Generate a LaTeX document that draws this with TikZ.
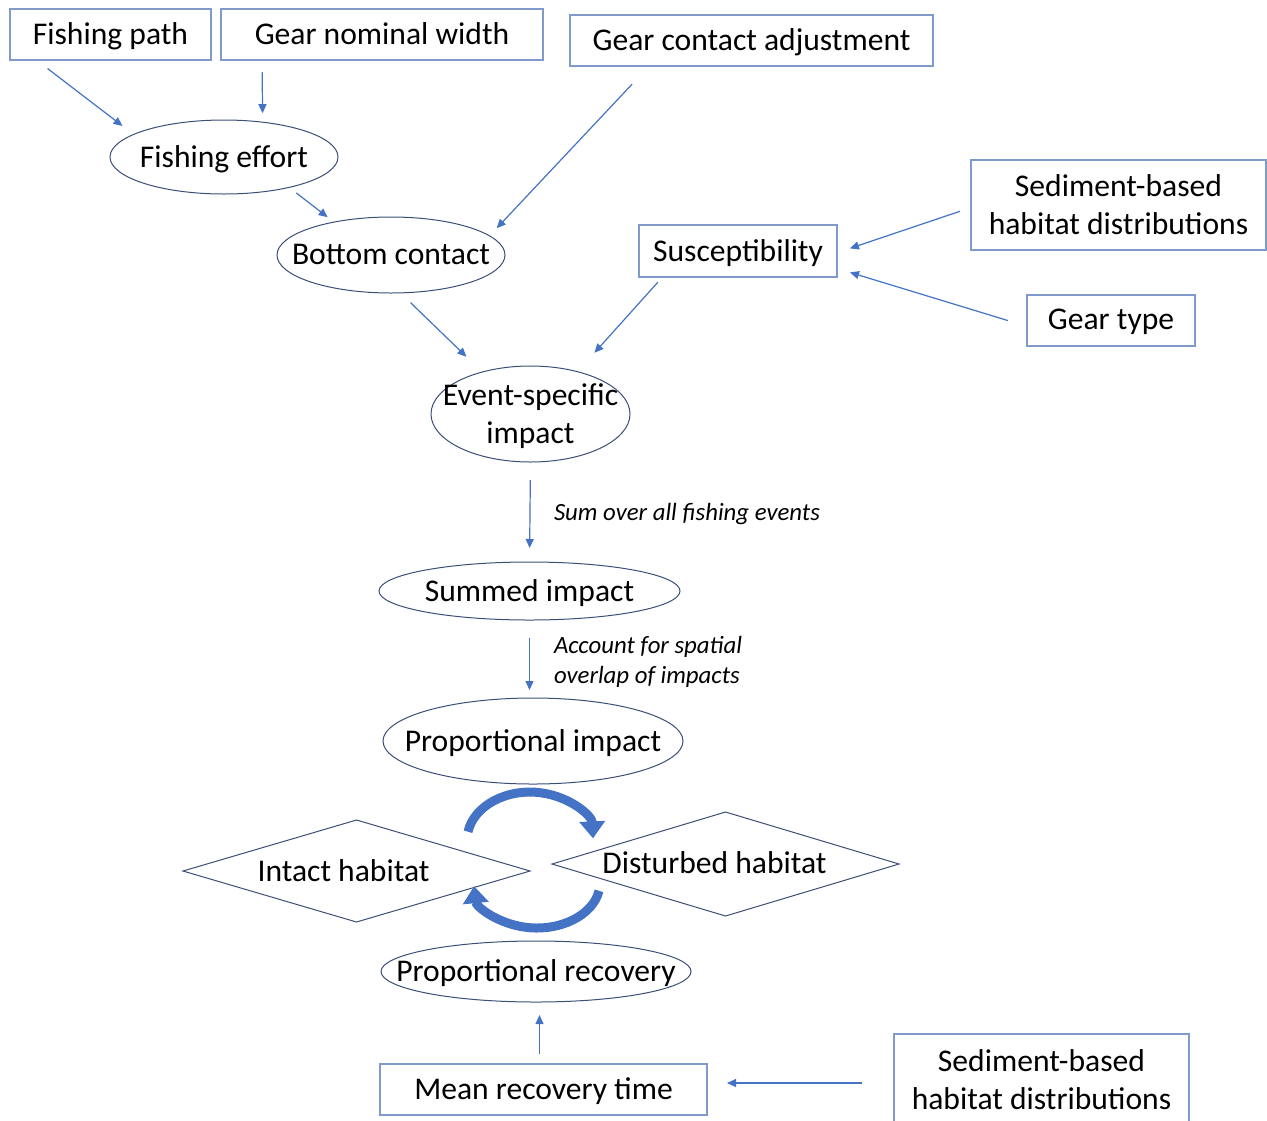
\documentclass[tikz,border=0pt]{standalone}
\usepackage{fontspec}
\setmainfont{Carlito}
\usetikzlibrary{shapes.geometric,arrows.meta}

\definecolor{arrowblue}{HTML}{4472C4}
\definecolor{boxline}{HTML}{7F9ACB}
\definecolor{ovalline}{HTML}{3B4E78}

\begin{document}
\begin{tikzpicture}[x=0.5pt, y=-0.5pt,
    every node/.style={font=\fontsize{15.8}{19}\selectfont, align=center, inner sep=0pt, outer sep=0pt, text depth=0.8pt},
    box/.style={draw=boxline, line width=0.65pt, rectangle},
    oval/.style={draw=ovalline, line width=0.5pt, ellipse, inner xsep=-40pt, inner ysep=-12pt},
    rhomb/.style={draw=ovalline, line width=0.5pt, diamond, shape aspect=3.4},
    arr/.style={arrowblue, line width=0.6pt, -{Triangle[length=4.5pt, width=4pt]}},
    cyc/.style={arrowblue, line width=4.5pt, -{Triangle[length=8.5pt, width=12.5pt]}},
    note/.style={font=\fontsize{12.4}{15}\selectfont\itshape, align=left, anchor=west}]
    \useasboundingbox (0,0) rectangle (1267,1120);

    % Entradas
    \node[box, minimum width=100.5pt, minimum height=25.5pt] (fpath) at (110.5,34.5) {Fishing path};
    \node[box, minimum width=161pt, minimum height=25.5pt] (gwidth) at (382,34.5) {Gear nominal width};
    \node[box, minimum width=181.5pt, minimum height=25.5pt] (gcontact) at (751.5,40.5) {Gear contact adjustment};
    \node[box, minimum width=147.5pt, minimum height=45pt] (sedtop) at (1118.5,205) {Sediment-based\\habitat distributions};
    \node[box, minimum width=99pt, minimum height=26pt] (suscept) at (738,251) {Susceptibility};
    \node[box, minimum width=84pt, minimum height=25.5pt] (geartype) at (1111,320.5) {Gear type};
    \node[box, minimum width=163.5pt, minimum height=25.5pt] (meanrec) at (543.5,1089.5) {Mean recovery time};
    \node[box, minimum width=147.5pt, minimum height=46pt] (sedbot) at (1041.5,1080) {Sediment-based\\habitat distributions};

    % Cantidades intermedias
    \node[oval, minimum width=114pt, minimum height=37pt] (effort) at (224,157) {Fishing effort};
    \node[oval, minimum width=114pt, minimum height=38pt] (contact) at (391,255) {Bottom contact};
    \node[oval, minimum width=99.5pt, minimum height=48pt] (event) at (530.5,414) {Event-specific\\impact};
    \node[oval, minimum width=150.5pt, minimum height=29pt] (summed) at (529.5,591) {Summed impact};
    \node[oval, minimum width=150pt, minimum height=43pt] (propimpact) at (533,741) {Proportional impact};
    \node[oval, minimum width=155pt, minimum height=30.5pt] (proprecov) at (536,971.5) {Proportional recovery};

    % Estados del habitat
    \node[rhomb, minimum width=173.5pt, minimum height=51pt, label={[xshift=-6.5pt]center:Intact habitat}] (intact) at (356.5,871) {};
    \node[rhomb, minimum width=173.5pt, minimum height=52pt, label={[xshift=-5.5pt, yshift=0.5pt]center:Disturbed habitat}] (disturbed) at (725.5,864) {};

    % Flechas
    \draw[arr, shorten <=7pt, shorten >=7pt] (fpath.199) -- (effort.166);
    \draw[arr, shorten <=6pt, shorten >=4.5pt] (gwidth.192.5) -- (effort.42.6);
    \draw[arr, shorten <=4.5pt, shorten >=4pt] (effort.335.6) -- (contact.150.9);
    \draw[arr, shorten <=12.5pt, shorten >=5.3pt] (gcontact.194.7) -- (contact.11.2);
    \draw[arr, shorten <=7pt, shorten >=11pt] (contact.284.6) -- (event.139.1);
    \draw[arr, shorten <=3.5pt, shorten >=12.7pt] (suscept.199.8) -- (event.42.4);
    \draw[arr, shorten <=5.8pt, shorten >=6.8pt] (sedtop.181.3) -- (suscept.359.2);
    \draw[arr, shorten <=10pt, shorten >=6.8pt] (geartype.184) -- (suscept.350.8);
    \draw[arr, shorten <=9pt, shorten >=7pt] (event.south) -- (summed.north);
    \draw[arr, shorten <=9pt, shorten >=4pt] (summed.south) -- (summed.south |- propimpact.north);
    \draw[arr, shorten <=5pt, shorten >=6.5pt] ([xshift=-2pt]meanrec.north) -- ([xshift=-2pt]meanrec.north |- proprecov.south);
    \draw[arr, shorten <=16pt, shorten >=10pt] ([yshift=-1.5pt]sedbot.west) -- ([yshift=-1.5pt]sedbot.west -| meanrec.east);

    % Etiquetas
    \node[note] (sumlbl) at (554,513) {Sum over all fishing events};
    \node[note] (overlaplbl) at (554,661) {Account for spatial\\overlap of impacts};

    % Ciclo entre habitats
    \draw[cyc] (468,831.7) arc[start angle=190, end angle=358, x radius=63, y radius=48];
    \draw[cyc] (599,890.8) arc[start angle=10, end angle=176, x radius=63, y radius=45];
\end{tikzpicture}
\end{document}
